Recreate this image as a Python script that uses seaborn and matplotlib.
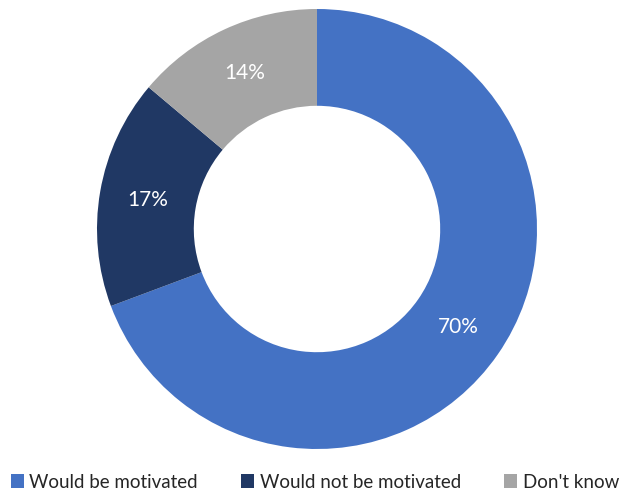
import matplotlib
matplotlib.use("Agg")
import matplotlib.pyplot as plt
from matplotlib.patches import Patch
import seaborn as sns

categories = ["Would be motivated", "Would not be motivated", "Don't know"]
shares = [70, 17, 14]
colors = ["#4472C4", "#203864", "#A5A5A5"]

sns.set_theme(style="white")
plt.rcParams["font.family"] = ["Lato", "DejaVu Sans"]

fig = plt.figure(figsize=(6.21, 4.94), dpi=100)
W, H = 621, 494
cx, cy, r = 317, 229, 220
ax = fig.add_axes([(cx - r) / W, (H - cy - r) / H, 2 * r / W, 2 * r / H])

wedges, texts, autotexts = ax.pie(
    shares,
    colors=colors,
    startangle=90,
    counterclock=False,
    radius=1,
    autopct=lambda p: f"{p * sum(shares) / 100:.0f}%",
    pctdistance=0.78,
    wedgeprops=dict(width=0.44, edgecolor="none"),
    textprops=dict(color="white", fontsize=15),
)
ax.set_xlim(-1, 1)
ax.set_ylim(-1, 1)
ax.set_aspect("equal")
ax.axis("off")

handles = [Patch(facecolor=c, edgecolor="none") for c in colors]
fig.legend(
    handles, categories,
    loc="center", bbox_to_anchor=(315 / W, 12 / H), ncol=3, frameon=False,
    fontsize=13.5, handlelength=0.7, handleheight=0.7, handletextpad=0.3,
    columnspacing=2.3, borderpad=0, borderaxespad=0,
)

fig.savefig("out.png", dpi=100, facecolor="white")
